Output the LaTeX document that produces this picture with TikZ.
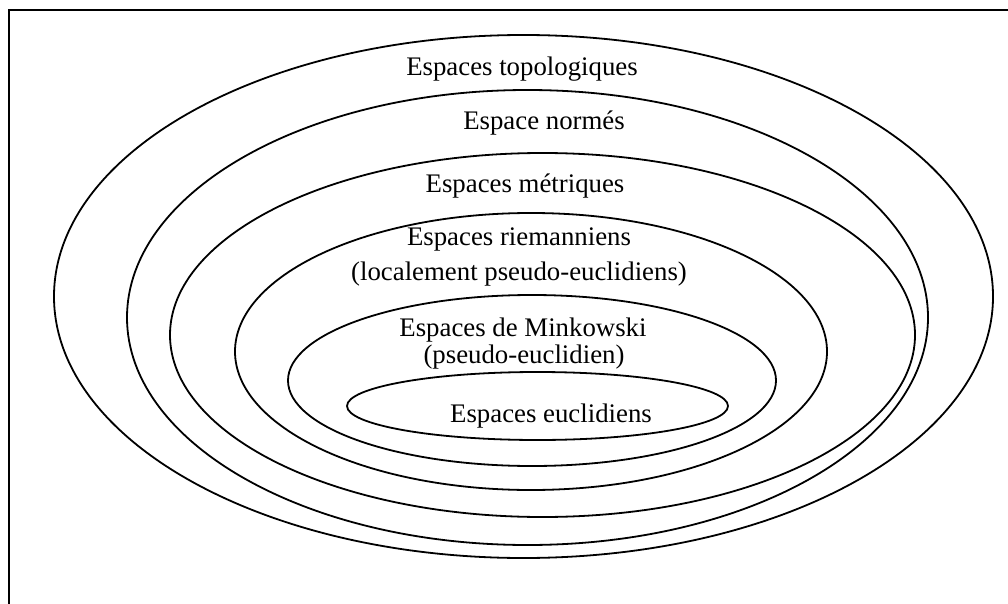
\documentclass[tikz,border=0pt]{standalone}
\usepackage{fontspec}
\setmainfont{Liberation Serif}
\usetikzlibrary{shapes.geometric}

\begin{document}
\begin{tikzpicture}[
    x=1pt, y=-1pt,
    % Styles
    ring/.style={
        ellipse, draw=black, line width=1.8pt, inner sep=0pt
    },
    frame/.style={
        draw=black, line width=2pt
    },
    caption/.style={
        font=\fontsize{26.8}{32}\selectfont, anchor=base, inner sep=0pt
    }
]
    \useasboundingbox (0,0) rectangle (1008,604);

    % --- 1. Frame ---
    \draw[frame] (9,610) |- (1012,10.5);

    % --- 2. Nested ellipses ---
    \node[ring, minimum width=939pt, minimum height=523pt] (topo) at (523.5,296.5) {};
    \node[ring, minimum width=801pt, minimum height=455pt] (norm) at (527.5,317.5) {};
    \node[ring, minimum width=745pt, minimum height=364pt] (metr) at (542.5,335) {};
    \node[ring, minimum width=592pt, minimum height=277pt] (riem) at (531,351.5) {};
    \node[ring, minimum width=488pt, minimum height=171pt] (mink) at (532,380.5) {};
    \node[ring, minimum width=381pt, minimum height=68pt] (eucl) at (537.5,406) {};

    % --- 3. Labels ---
    \node[caption] (topolabel) at (522,76) {Espaces topologiques};
    \node[caption] (normlabel) at (544,130) {Espace normés};
    \node[caption] (metrlabel) at (525,193) {Espaces métriques};
    \node[caption] (riemlabel) at (519,245) {Espaces riemanniens};
    \node[caption] (riemsub) at (519,280) {(localement pseudo-euclidiens)};
    \node[caption] (minklabel) at (523,336) {Espaces de Minkowski};
    \node[caption] (minksub) at (524,363) {(pseudo-euclidien)};
    \node[caption] (eucllabel) at (551,422) {Espaces euclidiens};

\end{tikzpicture}
\end{document}
